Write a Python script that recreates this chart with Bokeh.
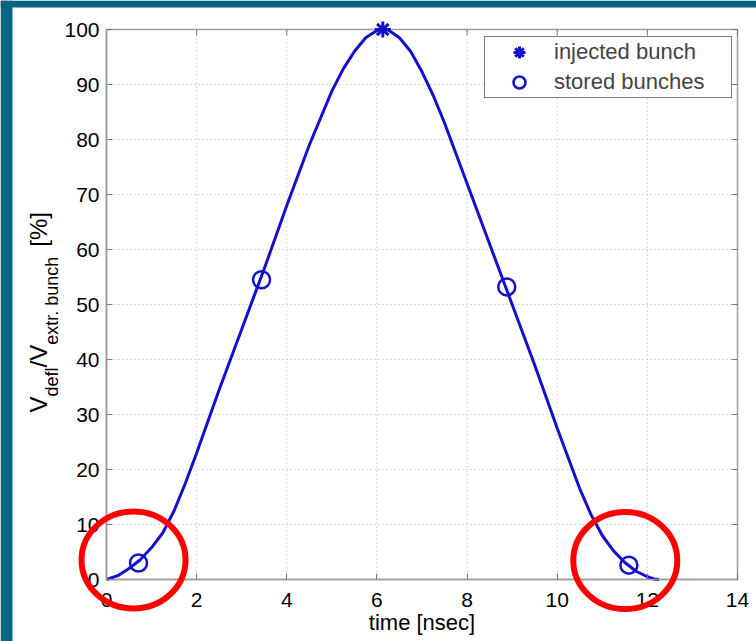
from bokeh.plotting import figure
from bokeh.models import (LinearAxis, BoxAnnotation, Label, Legend, LegendItem,
                          FixedTicker, Range1d)
from bokeh.embed import file_html
from bokeh.resources import INLINE

# ---------------- data ----------------
time_ns = [0.0, 0.25, 0.5, 0.75, 1.0, 1.25, 1.5, 1.75, 2.0, 2.5, 3.0, 3.5, 4.0, 4.5, 5.0, 5.25,
           5.5, 5.75, 6.0, 6.13, 6.25, 6.5, 6.75, 7.0, 7.25, 7.5, 8.0, 8.5, 9.0, 9.5, 10.0,
           10.5, 10.75, 11.0, 11.25, 11.5, 11.75, 12.0, 12.15, 12.26]
deflection_pct = [0.0, 0.7, 2.0, 3.6, 5.8, 8.5, 12.5, 17.5, 23.0, 34.5, 45.5, 56.5, 68.0, 79.0,
                  88.8, 92.8, 96.0, 98.5, 99.8, 100.0, 99.9, 98.5, 96.0, 92.3, 88.0, 83.0,
                  72.0, 61.0, 50.0, 39.0, 27.5, 16.5, 11.8, 8.0, 5.2, 3.1, 1.5, 0.5, 0.1, 0.0]
injected_t = [6.13]
injected_v = [100.0]
stored_t = [0.71, 3.44, 8.88, 11.59]
stored_v = [3.0, 54.5, 53.2, 2.6]
x_ticks = [0, 2, 4, 6, 8, 10, 12, 14]
y_ticks = [0, 10, 20, 30, 40, 50, 60, 70, 80, 90, 100]
legend_labels = ["injected bunch", "stored bunches"]
x_title = "time [nsec]"
y_title_parts = [("V", "main"), ("defl", "sub"), ("/V", "main"),
                 ("extr. bunch", "sub"), ("[%]", "main")]
highlight_t = [0.60, 11.51]
highlight_v = [3.55, 3.45]

# ---------------- styling / layout ----------------
BLUE = "#1212cc"
RED = "#ff0000"
TEAL = "#07667f"
GRAY = "#9a9a9a"
TICK = "#7a7a7a"
FONT = "Liberation Sans"
TICK_FS = "21px"

W, H = 756, 641
BOX_L, BOX_R, BOX_T, BOX_B = 106, 737, 29, 579      # plot box in canvas pixels
PX_PER_T = (BOX_R - BOX_L) / 14.0
PX_PER_V = (BOX_B - BOX_T) / 100.0

def tx(px):   # canvas x pixel -> data t
    return (px - BOX_L) / PX_PER_T

def vy(py):   # canvas y pixel -> data v
    return (BOX_B - py) / PX_PER_V

p = figure(width=W, height=H, x_range=Range1d(tx(0), tx(W)), y_range=Range1d(vy(H), vy(0)),
           output_backend="svg", toolbar_location=None,
           x_axis_location=None, y_axis_location=None,
           min_border=0, background_fill_color="white", border_fill_color="white")
p.outline_line_color = None
p.grid.visible = False

# slide background strips
p.add_layout(BoxAnnotation(left=tx(0), right=tx(12), bottom=vy(H), top=vy(0),
                           fill_color=TEAL, fill_alpha=1, line_color=None, level="underlay"))
p.add_layout(BoxAnnotation(left=tx(0), right=tx(W), bottom=vy(7), top=vy(0),
                           fill_color=TEAL, fill_alpha=1, line_color=None, level="underlay"))

# dotted grid (from tick lists)
p.segment(x0=x_ticks, x1=x_ticks, y0=[0] * len(x_ticks), y1=[100] * len(x_ticks),
          line_color="#b0b0b0", line_dash="1 3", line_width=1)
p.segment(x0=[0] * len(y_ticks), x1=[14] * len(y_ticks), y0=y_ticks, y1=y_ticks,
          line_color="#b0b0b0", line_dash="1 3", line_width=1)

# plot box
p.add_layout(BoxAnnotation(left=0, right=14, bottom=0, top=100, fill_alpha=0,
                           line_color=GRAY, line_alpha=1, line_width=1.5, level="underlay"))

# mirrored tick marks on top and right
tick_len_t = 6 / PX_PER_T
tick_len_v = 6 / PX_PER_V
p.segment(x0=x_ticks, x1=x_ticks, y0=[100] * len(x_ticks),
          y1=[100 - tick_len_v] * len(x_ticks), line_color=TICK, line_width=1)
p.segment(x0=[14] * len(y_ticks), x1=[14 - tick_len_t] * len(y_ticks), y0=y_ticks,
          y1=y_ticks, line_color=TICK, line_width=1)

# axes fixed at the plot box
xaxis = LinearAxis(fixed_location=0, bounds=(0, 14), ticker=FixedTicker(ticks=x_ticks))
yaxis = LinearAxis(fixed_location=0, bounds=(0, 100), ticker=FixedTicker(ticks=y_ticks))
for ax in (xaxis, yaxis):
    ax.axis_line_color = GRAY
    ax.axis_line_width = 1.5
    ax.major_tick_in = 6
    ax.major_tick_out = 0
    ax.major_tick_line_color = TICK
    ax.minor_tick_line_color = None
    ax.major_label_text_font = FONT
    ax.major_label_text_font_size = TICK_FS
    ax.major_label_text_color = "black"
yaxis.major_label_standoff = 7
xaxis.major_label_standoff = 13
xaxis.axis_label = x_title
xaxis.axis_label_text_font = FONT
xaxis.axis_label_text_font_size = "22px"
xaxis.axis_label_text_font_style = "normal"
xaxis.axis_label_text_color = "black"
xaxis.axis_label_standoff = 0
p.add_layout(xaxis, "below")
p.add_layout(yaxis, "left")

# curve and markers
p.line(time_ns, deflection_pct, line_color=BLUE, line_width=3)
r_inj = p.scatter(injected_t, injected_v, marker="asterisk", size=16,
                  line_color=BLUE, line_width=3)
r_sto = p.scatter(stored_t, stored_v, marker="circle", size=17, fill_color=None,
                  line_color=BLUE, line_width=2.5)

# legend: box spans canvas x 484..730, y 38..98 (location = left, bottom-from-bottom)
legend = Legend(items=[LegendItem(label=legend_labels[0], renderers=[r_inj]),
                       LegendItem(label=legend_labels[1], renderers=[r_sto])],
                location=(484, H - 98), margin=0, padding=0, spacing=0,
                glyph_width=68, glyph_height=30, label_standoff=1,
                label_width=177, label_height=20,
                label_text_font=FONT, label_text_font_size="22px",
                border_line_color="black", border_line_width=1,
                background_fill_color="white", background_fill_alpha=1.0)
p.add_layout(legend)

# red highlight circles (drawn on top of everything)
p.ellipse(x=highlight_t, y=highlight_v, width=104, height=97,
          width_units="screen", height_units="screen",
          fill_color=None, line_color=RED, line_width=6, level="overlay")

# rotated y-axis title with subscripts
ARIAL_W = {"V": 667, "/": 278, "d": 556, "e": 556, "f": 278, "l": 222, "x": 500,
           "t": 278, "r": 333, ".": 278, " ": 278, "b": 556, "u": 556, "n": 556,
           "c": 500, "h": 556, "[": 278, "%": 889, "]": 278}
MAIN_FS, SUB_FS = 24, 18
GAP_BEFORE_UNIT = 9   # px between subscript and "[%]"
main_x = tx(38)
sub_x = tx(51)
v_pos = vy(412)
for txt, kind in y_title_parts:
    fs = MAIN_FS if kind == "main" else SUB_FS
    if txt.startswith("["):
        v_pos += GAP_BEFORE_UNIT / PX_PER_V
    p.add_layout(Label(x=main_x if kind == "main" else sub_x, y=v_pos, text=txt,
                       angle=90, angle_units="deg", text_font=FONT,
                       text_font_size=f"{fs}px", text_color="black",
                       text_align="left", text_baseline="alphabetic"))
    v_pos += sum(ARIAL_W[c] for c in txt) / 1000 * fs / PX_PER_V

open("out.html", "w").write(file_html(p, INLINE))
